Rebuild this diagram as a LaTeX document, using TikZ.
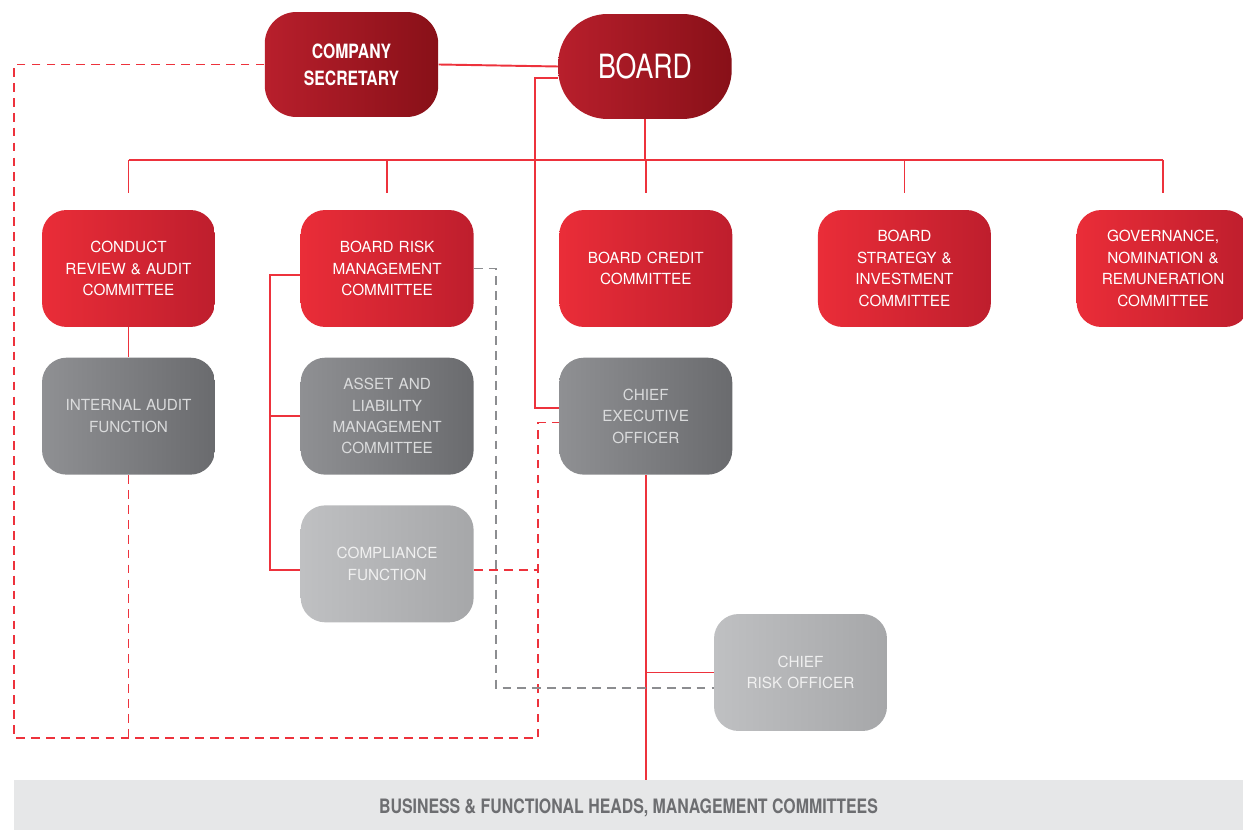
\documentclass[tikz,border=0pt]{standalone}
\usepackage{fontspec}
\setmainfont{TeX Gyre Heros}
\newfontfamily\condfont[FakeStretch=0.8]{TeX Gyre Heros}
\usetikzlibrary{positioning}
\definecolor{redlight}{RGB}{234,45,56}
\definecolor{reddark}{RGB}{190,30,45}
\definecolor{wineleft}{RGB}{184,31,44}
\definecolor{wineright}{RGB}{136,16,24}
\definecolor{greyleft}{RGB}{143,144,147}
\definecolor{greyright}{RGB}{106,107,110}
\definecolor{greytext}{RGB}{218,219,220}
\definecolor{paleleft}{RGB}{191,192,194}
\definecolor{paleright}{RGB}{166,167,169}
\definecolor{paletext}{RGB}{240,240,240}
\definecolor{linered}{RGB}{237,50,60}
\definecolor{dashgrey}{RGB}{140,141,144}
\definecolor{barfill}{RGB}{230,231,232}
\definecolor{bartext}{RGB}{109,110,113}

\begin{document}
\begin{tikzpicture}[x=0.02cm, y=-0.02cm, node distance=1.7cm,
    unit/.style={rectangle, rounded corners=14pt, minimum width=3.46cm, minimum height=2.34cm,
                 inner sep=0pt, text width=3.3cm, align=center, font=\fontsize{8.7}{12.2}\selectfont},
    committee/.style={unit, left color=redlight, right color=reddark, text=white},
    executive/.style={unit, left color=greyleft, right color=greyright, text=greytext},
    officer/.style={unit, left color=paleleft, right color=paleright, text=paletext},
    apex/.style={rectangle, minimum width=3.47cm, minimum height=2.1cm, inner sep=0pt, align=center,
                 left color=wineleft, right color=wineright, text=white},
    link/.style={linered, line width=1.1pt},
    dashlink/.style={linered, line width=0.9pt, dash pattern=on 5pt off 3.5pt},
    greylink/.style={dashgrey, line width=0.9pt, dash pattern=on 5pt off 3.5pt}]

    \useasboundingbox (0,0) rectangle (1243,830);

    % top level
    \node[apex, rounded corners=18pt, font=\condfont\bfseries\fontsize{11.2}{15.3}\selectfont] (secretary) at (351.5,64.5) {COMPANY\\SECRETARY};
    \node[apex, rounded corners=28pt, font=\condfont\fontsize{19}{22}\selectfont] (board) at (645,66.5) {BOARD};

    % board committees
    \node[committee] (conduct) at (128.5,268.5) {CONDUCT\\REVIEW \& AUDIT\\COMMITTEE};
    \node[committee, right=of conduct] (brmc) {BOARD RISK\\MANAGEMENT\\COMMITTEE};
    \node[committee, right=of brmc] (credit) {BOARD CREDIT\\COMMITTEE};
    \node[committee, right=of credit] (strategy) {BOARD\\STRATEGY \&\\INVESTMENT\\COMMITTEE};
    \node[committee, right=of strategy] (governance) {GOVERNANCE,\\NOMINATION \&\\REMUNERATION\\COMMITTEE};

    % second level
    \node[executive, below=0.6cm of conduct] (audit) {INTERNAL AUDIT\\FUNCTION};
    \node[executive, below=0.6cm of brmc] (alco) {ASSET AND\\LIABILITY\\MANAGEMENT\\COMMITTEE};
    \node[officer, below=0.6cm of alco] (compliance) {COMPLIANCE\\FUNCTION};
    \node[executive, below=0.6cm of credit] (ceo) {CHIEF\\EXECUTIVE\\OFFICER};
    \node[officer] (cro) at (800.5,672.5) {CHIEF\\RISK OFFICER};

    \node[rectangle, fill=barfill, minimum width=24.58cm, minimum height=1.12cm, inner sep=0pt,
          text=bartext, font=\condfont\bfseries\fontsize{11.3}{12}\selectfont] (bar) at (628.5,808)
          {BUSINESS \& FUNCTIONAL HEADS, MANAGEMENT COMMITTEES};

    \coordinate (bus) at (0,160);
    \coordinate (loopsw) at (14,738);
    \coordinate (loopse) at (538,738);

    % solid reporting lines
    \draw[link] (secretary.east) -- (board.west);
    \draw[link] (board.south) -- (board.south |- bus);
    \draw[link] (conduct.north |- bus) -- (governance.north |- bus);
    \foreach \n in {conduct, brmc, credit, strategy, governance}
        \draw[link] (\n.north |- bus) -- ([yshift=0.34cm]\n.north);
    \draw[link] ([yshift=-0.23cm]board.west) -- ++(-23,0) |- ([yshift=0.17cm]ceo.west);
    \draw[link] (conduct) -- (audit);
    \draw[link] ([yshift=-0.13cm]brmc.west) -- ++(-30,0) |- ([yshift=-0.12cm]compliance.west);
    \draw[link] (alco.west) -- ++(-30,0);
    \draw[link] (ceo.south) -- (ceo.south |- bar.north);
    \draw[link] (cro.west) -- (ceo.south |- cro.west);

    % dashed lines
    \draw[dashlink] (secretary.west) -| (loopsw) -- (loopse) |- ([yshift=-0.13cm]ceo.west);
    \draw[dashlink] (audit.south) -- (audit.south |- loopsw);
    \draw[dashlink] ([yshift=-0.12cm]compliance.east) -- ++(65,0);
    \draw[greylink] (brmc.east) -- ++(22,0) |- ([yshift=-0.31cm]cro.west);
\end{tikzpicture}
\end{document}
